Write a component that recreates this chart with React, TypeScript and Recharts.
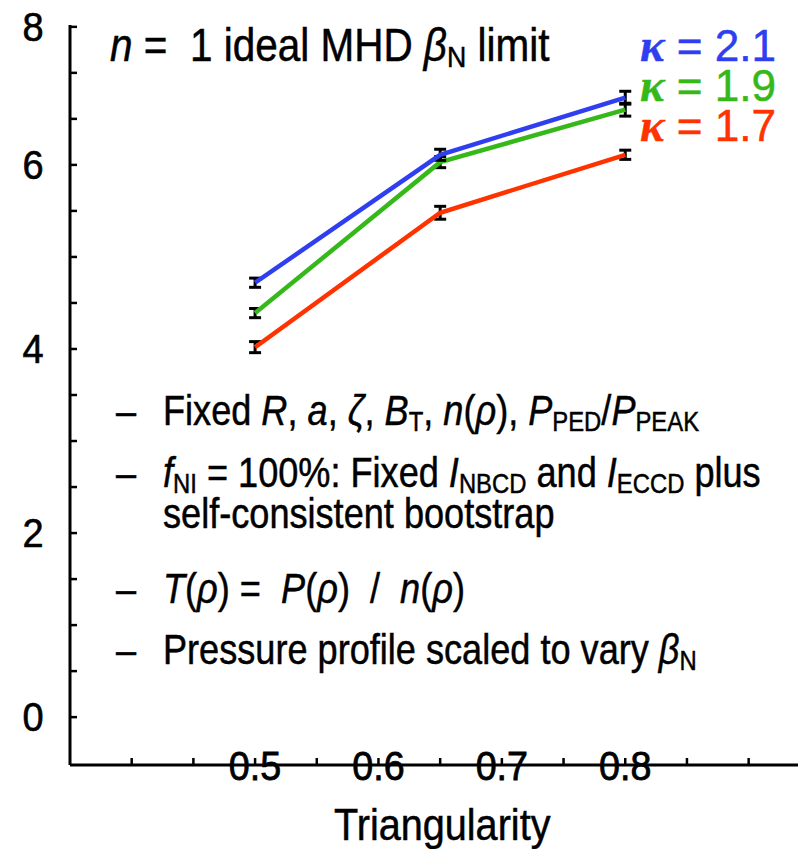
import React from 'react';
import { LineChart, Line, XAxis, YAxis, ErrorBar } from 'recharts';

// triangularity values where the equilibria were computed
const triangularity = [0.5, 0.65, 0.8];

// beta_N limit for each elongation
const betaKappa21 = [4.72, 6.11, 6.73];
const betaKappa19 = [4.39, 6.03, 6.6];
const betaKappa17 = [4.02, 5.48, 6.11];

// half-width of the little error brackets
const errKappa21 = [0.05, 0.06, 0.07];
const errKappa19 = [0.05, 0.06, 0.07];
const errKappa17 = [0.06, 0.07, 0.05];

const xTicks = [0.4, 0.45, 0.5, 0.55, 0.6, 0.65, 0.7, 0.75, 0.8, 0.85, 0.9];
const xLabelTicks = [0.5, 0.6, 0.7, 0.8];
const xTickLabels = ['0.5', '0.6', '0.7', '0.8'];

const yTicks = [0, 0.5, 1, 1.5, 2, 2.5, 3, 3.5, 4, 4.5, 5, 5.5, 6, 6.5, 7, 7.5];
const yLabelTicks = [0, 2, 4, 6, 7.5];
const yTickLabels = ['0', '2', '4', '6', '8'];

const BLUE = '#2f3ff0';
const GREEN = '#36b81a';
const RED = '#ff3300';
const FONT = "'Liberation Sans', Arial, sans-serif";
const HEAVY = '0.5px';

const data = triangularity.map((t, i) => ({
  t,
  k21: betaKappa21[i],
  k19: betaKappa19[i],
  k17: betaKappa17[i],
  e21: errKappa21[i],
  e19: errKappa19[i],
  e17: errKappa17[i],
}));

const labelFor = (v: number, ticks: number[], labels: string[]) => {
  const i = ticks.findIndex((t) => Math.abs(t - v) < 1e-6);
  return i >= 0 ? labels[i] : null;
};

const BottomTick = (props: any) => {
  const { x, y, payload } = props;
  const label = labelFor(payload.value, xLabelTicks, xTickLabels);
  return (
    <g>
      {label && (
        <text
          transform={`translate(${x},${y}) scale(0.92,1)`}
          textAnchor="middle"
          dominantBaseline="central"
          fontFamily={FONT}
          fontSize={41}
          fill="#000"
          stroke="#000"
          strokeWidth={0.8}
        >
          {label}
        </text>
      )}
      <line x1={x} x2={x} y1={y} y2={y - 7} stroke="#000" strokeWidth={2.5} />
    </g>
  );
};

const TopTick = (props: any) => {
  const { x, y } = props;
  return <line x1={x} x2={x} y1={y} y2={y + 7} stroke="#000" strokeWidth={2.5} />;
};

const LeftTick = (props: any) => {
  const { x, y, payload } = props;
  const label = labelFor(payload.value, yLabelTicks, yTickLabels);
  return (
    <g>
      <line x1={x} x2={x + 7} y1={y} y2={y} stroke="#000" strokeWidth={2.5} />
      {label && (
        <text
          transform={`translate(${x - 37},${y}) scale(0.95,1)`}
          textAnchor="middle"
          dominantBaseline="central"
          fontFamily={FONT}
          fontSize={40}
          fill="#000"
          stroke="#000"
          strokeWidth={0.6}
        >
          {label}
        </text>
      )}
    </g>
  );
};

const Sub = ({ children }: { children: React.ReactNode }) => (
  <span style={{ fontSize: '0.66em', verticalAlign: '-0.2em', fontStyle: 'normal', lineHeight: 0 }}>{children}</span>
);
const I = ({ children }: { children: React.ReactNode }) => <span style={{ fontStyle: 'italic' }}>{children}</span>;

// narrow sans look: Liberation Sans squeezed horizontally; `center` is the cap-height middle
const LH = 0.9;
const textLine = (center: number, left: number, size: number, squeeze: number): React.CSSProperties => ({
  position: 'absolute',
  left,
  top: center - (LH / 2 - 0.0115) * size,
  fontSize: size,
  lineHeight: LH,
  whiteSpace: 'nowrap',
  fontFamily: FONT,
  color: '#000',
  WebkitTextStroke: HEAVY,
  transform: `scaleX(${squeeze})`,
  transformOrigin: 'left center',
});

const Kappa = ({ value, color, center }: { value: string; color: string; center: number }) => (
  <div style={{ ...textLine(center, 640, 45, 0.98), color }}>
    <span
      style={{
        fontFamily: "'Liberation Serif', serif",
        fontWeight: 'bold',
        fontStyle: 'italic',
        fontSize: '1.05em',
        lineHeight: 0,
      }}
    >
      κ
    </span>
    {' = ' + value}
  </div>
);

const bullets: { center: number; content: React.ReactNode; dash: boolean }[] = [
  {
    center: 410,
    dash: true,
    content: (
      <>
        Fixed <I>R</I>, <I>a</I>, <I>ζ</I>, <I>B</I><Sub>T</Sub>, <I>n</I>(<I>ρ</I>), <I>P</I><Sub>PED</Sub>/<I>P</I><Sub>PEAK</Sub>
      </>
    ),
  },
  {
    center: 472,
    dash: true,
    content: (
      <>
        <I>f</I><Sub>NI</Sub> = 100%: Fixed <I>I</I><Sub>NBCD</Sub> and <I>I</I><Sub>ECCD</Sub> plus
      </>
    ),
  },
  { center: 513, dash: false, content: <>self-consistent bootstrap</> },
  {
    center: 588,
    dash: true,
    content: (
      <>
        <I>T</I>(<I>ρ</I>) = &nbsp;<I>P</I>(<I>ρ</I>) &nbsp;/ &nbsp;<I>n</I>(<I>ρ</I>)
      </>
    ),
  },
  {
    center: 649,
    dash: true,
    content: (
      <>
        Pressure profile scaled to vary <I>β</I><Sub>N</Sub>
      </>
    ),
  },
];

export default function App() {
  return (
    <div style={{ position: 'fixed', left: 0, top: 0, width: 798, height: 849, overflow: 'hidden', background: '#fff' }}>
      <LineChart width={798} height={849} data={data} margin={{ top: 25, right: 0, bottom: 0, left: 0 }}>
        <XAxis
          xAxisId="bottom"
          dataKey="t"
          type="number"
          domain={[0.35, 0.94]}
          allowDataOverflow
          ticks={xTicks}
          interval={0}
          height={84}
          tickSize={0}
          tickMargin={0}
          tickLine={false}
          axisLine={{ stroke: '#000', strokeWidth: 3 }}
          tick={<BottomTick />}
        />
        <XAxis
          xAxisId="top"
          orientation="top"
          dataKey="t"
          type="number"
          domain={[0.35, 0.94]}
          allowDataOverflow
          ticks={xTicks}
          interval={0}
          height={0}
          tickSize={0}
          tickMargin={0}
          tickLine={false}
          axisLine={{ stroke: '#000', strokeWidth: 3 }}
          tick={<TopTick />}
        />
        <YAxis
          type="number"
          domain={[-0.52, 7.52]}
          allowDataOverflow
          ticks={yTicks}
          interval={0}
          width={70}
          tickSize={0}
          tickMargin={0}
          tickLine={false}
          axisLine={{ stroke: '#000', strokeWidth: 3 }}
          tick={<LeftTick />}
        />
        <Line xAxisId="bottom" dataKey="k17" stroke={RED} strokeWidth={4.5} dot={false} isAnimationActive={false}>
          <ErrorBar dataKey="e17" width={6} strokeWidth={3} stroke="#000" direction="y" />
        </Line>
        <Line xAxisId="bottom" dataKey="k19" stroke={GREEN} strokeWidth={4.5} dot={false} isAnimationActive={false}>
          <ErrorBar dataKey="e19" width={6} strokeWidth={3} stroke="#000" direction="y" />
        </Line>
        <Line xAxisId="bottom" dataKey="k21" stroke={BLUE} strokeWidth={4.5} dot={false} isAnimationActive={false}>
          <ErrorBar dataKey="e21" width={6} strokeWidth={3} stroke="#000" direction="y" />
        </Line>
      </LineChart>

      <div style={{ position: 'absolute', left: 42, width: 800, top: 824 - 0.4385 * 44, textAlign: 'center', lineHeight: LH }}>
        <span
          style={{
            display: 'inline-block',
            fontFamily: FONT,
            fontSize: 44,
            transform: 'scaleX(0.9)',
            whiteSpace: 'nowrap',
            WebkitTextStroke: HEAVY,
          }}
        >
          Triangularity
        </span>
      </div>

      <div style={textLine(45, 110, 46, 0.88)}>
        <I>n</I> = &nbsp;1 ideal MHD <I>β</I><Sub>N</Sub> limit
      </div>

      <Kappa value="2.1" color={BLUE} center={46} />
      <Kappa value="1.9" color={GREEN} center={86} />
      <Kappa value="1.7" color={RED} center={126} />

      {bullets.map((b, i) => (
        <React.Fragment key={i}>
          {b.dash && <div style={textLine(b.center, 116, 43, 0.84)}>–</div>}
          <div style={textLine(b.center, 163, 43, 0.84)}>{b.content}</div>
        </React.Fragment>
      ))}
    </div>
  );
}
